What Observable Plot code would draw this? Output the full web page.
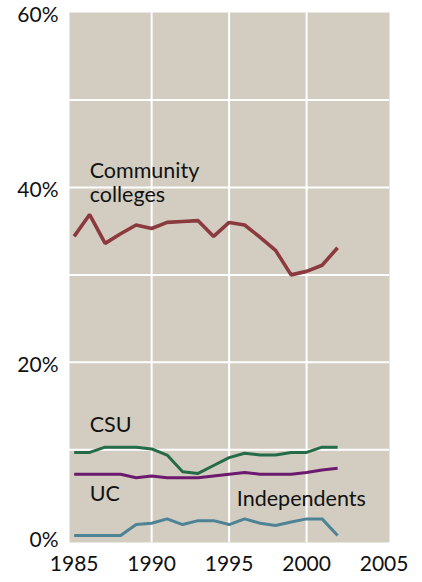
<!DOCTYPE html>
<html>
<head>
<meta charset="utf-8">
<script src="https://cdn.jsdelivr.net/npm/d3@7"></script>
<script src="https://cdn.jsdelivr.net/npm/@observablehq/plot@0.6"></script>
<style>
  html, body { margin: 0; padding: 0; background: #fff; }
  #chart { width: 422px; height: 582px; }
</style>
</head>
<body>
<div id="chart"></div>
<script>
const years = [1985,1986,1987,1988,1989,1990,1991,1992,1993,1994,1995,1996,1997,1998,1999,2000,2001,2002];
const communityColleges = [34.4,36.9,33.6,34.7,35.7,35.3,36.0,36.1,36.2,34.4,36.0,35.7,34.3,32.8,30.0,30.4,31.1,33.1];
const csu = [9.7,9.7,10.3,10.3,10.3,10.1,9.4,7.5,7.3,8.2,9.1,9.6,9.4,9.4,9.7,9.7,10.3,10.3];
const uc = [7.2,7.2,7.2,7.2,6.8,7.0,6.8,6.8,6.8,7.0,7.2,7.4,7.2,7.2,7.2,7.4,7.7,7.9];
const independents = [0.2,0.2,0.2,0.2,1.45,1.6,2.1,1.45,1.9,1.9,1.45,2.1,1.6,1.35,1.75,2.1,2.1,0.2];

const seriesNames = ["Community colleges", "CSU", "UC", "Independents"];
const seriesValues = [communityColleges, csu, uc, independents];
const seriesColors = ["#8b3a3f", "#256b47", "#6b1a6e", "#4e8396"];
const seriesWidths = [3.6, 3, 3, 3];

const xTicks = [1985, 1990, 1995, 2000, 2005];
const yTicks = [0, 20, 40, 60];
const xGrid = [1990, 1995, 2000];
const yGrid = [10, 20, 30, 40, 50];

// label annotations (text + anchor in data units)
const labelTexts = ["Community\ncolleges", "CSU", "UC", "Independents"];
const labelYears = [1986.0, 1986.0, 1986.0, 1995.5];
const labelValues = [38.3, 12.0, 4.2, 3.6];

const rows = [];
seriesNames.forEach((name, i) => {
  years.forEach((yr, j) => rows.push({series: name, year: yr, value: seriesValues[i][j]}));
});
const labels = labelTexts.map((t, i) => ({text: t, year: labelYears[i], value: labelValues[i]}));

const marks = [
  Plot.frame({fill: "#d3cdc1"}),
  Plot.ruleX(xGrid, {stroke: "#ffffff", strokeWidth: 2}),
  Plot.ruleY(yGrid, {stroke: "#ffffff", strokeWidth: 2}),
  ...seriesNames.map((name, i) =>
    Plot.line(rows.filter(d => d.series === name), {
      x: "year", y: "value", stroke: seriesColors[i], strokeWidth: seriesWidths[i],
      strokeLinejoin: "miter", strokeLinecap: "butt"
    })
  ),
  Plot.text(labels, {x: "year", y: "value", text: "text", textAnchor: "start",
    lineAnchor: "bottom", lineHeight: 1.15, fontSize: 21.5, fill: "#111"}),
  Plot.axisX({ticks: xTicks, tickFormat: d => String(d), tickSize: 0, tickPadding: 14, fontSize: 21, fill: "#111", label: null}),
  Plot.axisY({ticks: yTicks, tickFormat: d => d + "%", tickSize: 0, tickPadding: 11, fontSize: 21, fill: "#111", dy: 3, label: null})
];

const chart = Plot.plot({
  width: 422,
  height: 582,
  marginLeft: 69,
  marginRight: 33,
  marginTop: 12,
  marginBottom: 40,
  x: {domain: [1984.7, 2005.35]},
  y: {domain: [-0.6, 60]},
  style: {fontFamily: "Lato, 'Open Sans', sans-serif", fontSize: "20px", background: "#ffffff", color: "#111"},
  marks
});
document.getElementById("chart").appendChild(chart);
</script>
</body>
</html>
